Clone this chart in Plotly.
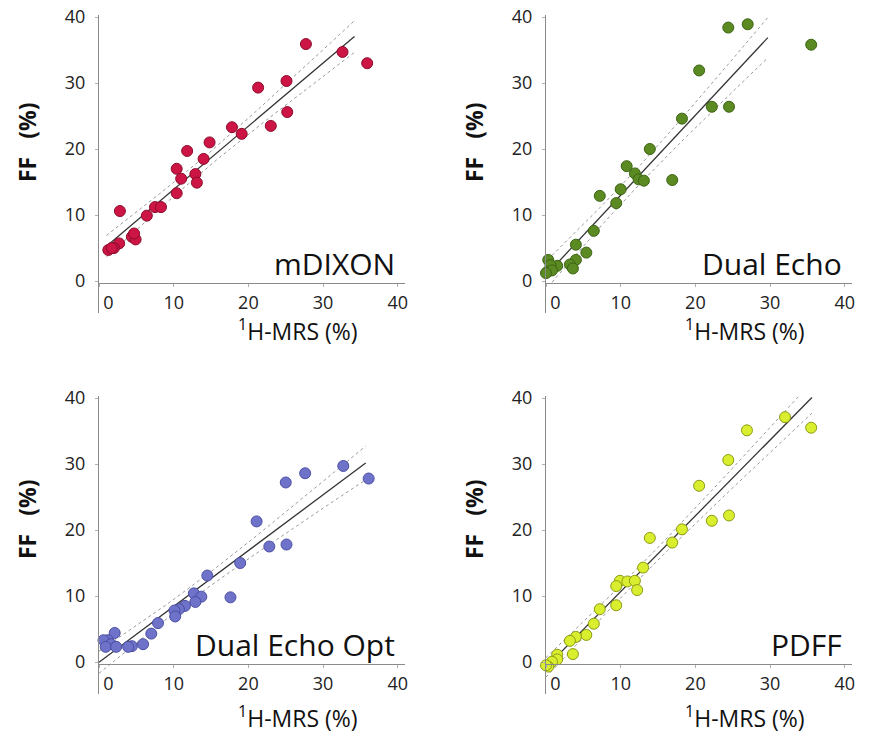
import numpy as np
import plotly.graph_objects as go

W, H = 874, 734

# ---- data ----
mrs_mdixon = [27.7, 32.6, 35.9, 21.3, 25.1, 25.2, 23.0, 17.8, 19.1, 14.8, 11.8, 14.0, 10.4, 11.0,
              12.9, 13.1, 10.4, 7.5, 8.3, 6.4, 2.8, 4.4, 4.9, 4.7, 2.7, 2.0, 1.25, 1.7]
ff_mdixon = [35.9, 34.7, 33.0, 29.3, 30.3, 25.6, 23.5, 23.3, 22.3, 21.0, 19.7, 18.5, 17.0, 15.5,
             16.2, 14.9, 13.3, 11.2, 11.2, 9.9, 10.6, 6.7, 6.3, 7.2, 5.7, 5.0, 4.7, 5.0]

mrs_dual = [24.4, 27.0, 35.5, 20.5, 22.2, 24.5, 18.2, 13.9, 10.8, 11.9, 12.4, 13.1, 16.9, 10.0,
            7.2, 9.4, 6.4, 4.0, 5.4, 4.0, 3.2, 3.6, 1.5, 0.3, 0.6, 0.2, 0.8, 0.0]
ff_dual = [38.4, 38.9, 35.8, 31.9, 26.4, 26.4, 24.6, 20.0, 17.4, 16.3, 15.4, 15.2, 15.3, 13.9,
           12.9, 11.8, 7.6, 5.5, 4.3, 3.2, 2.5, 1.9, 2.3, 3.2, 2.4, 1.4, 1.6, 1.2]

mrs_opt = [32.7, 27.6, 36.1, 25.0, 21.1, 22.8, 25.1, 18.9, 14.5, 17.6, 12.7, 13.7, 12.9, 11.5,
           10.7, 10.1, 10.2, 7.9, 7.0, 5.9, 4.4, 3.9, 2.1, 1.2, 0.6, 1.6, 0.9, 2.3]
ff_opt = [29.7, 28.6, 27.8, 27.2, 21.3, 17.5, 17.8, 15.0, 13.1, 9.8, 10.4, 9.9, 9.1, 8.5,
          8.0, 7.8, 6.9, 5.9, 4.3, 2.7, 2.4, 2.3, 4.4, 3.3, 3.3, 2.7, 2.3, 2.3]

mrs_pdff = [32.0, 35.5, 26.9, 24.4, 20.5, 22.2, 24.5, 18.2, 13.9, 16.9, 13.0, 9.9, 10.9, 11.9,
            9.4, 12.2, 9.4, 7.2, 6.4, 5.4, 4.0, 3.2, 3.6, 1.5, 1.5, 0.8, 0.3, 0.0]
ff_pdff = [37.1, 35.5, 35.1, 30.6, 26.7, 21.4, 22.2, 20.1, 18.8, 18.1, 14.3, 12.3, 12.2, 12.3,
           11.5, 10.9, 8.6, 8.0, 5.8, 4.1, 3.8, 3.2, 1.2, 1.1, 0.4, 0.05, -0.7, -0.5]

panel_names = ["mDIXON", "Dual Echo", "Dual Echo Opt", "PDFF"]
line_x_start = [1.0, 0.8, 0.0, 0.0]
line_x_end = [34.2, 29.7, 35.7, 35.6]
x_ticks = [0, 10, 20, 30, 40]
y_ticks = [0, 10, 20, 30, 40]
x_title = "<sup>1</sup>H-MRS (%)"
y_title = "FF\u00a0\u00a0\u00a0(%)"

fill_colors = ["#cc1445", "#5b8a22", "#6f72c9", "#d8ee2e"]
edge_colors = ["#8c0c2b", "#3c6414", "#4b4fa3", "#8d9c12"]

# ---- layout geometry (pixels) ----
PXX, PXY = 7.47, 6.6
origins = [(99, 281), (546, 281), (99, 662), (546, 662)]
X_RANGE = [0, 41]
Y_RANGE = [-4.85, 40.3]
T_VAL = 2.056

def xp(px):
    return px / W

def yp(px):
    return 1 - px / H

xs_all = [mrs_mdixon, mrs_dual, mrs_opt, mrs_pdff]
ys_all = [ff_mdixon, ff_dual, ff_opt, ff_pdff]

fig = go.Figure()
annotations = []
font_family = "Open Sans, Lato, sans-serif"

for i in range(4):
    n = i + 1
    xa = "x" if n == 1 else f"x{n}"
    ya = "y" if n == 1 else f"y{n}"
    x = np.array(xs_all[i], dtype=float)
    y = np.array(ys_all[i], dtype=float)

    # regression with 95% CI of the mean
    b, a = np.polyfit(x, y, 1)
    resid = y - (a + b * x)
    s = np.sqrt(np.sum(resid ** 2) / (len(x) - 2))
    xm = x.mean()
    sxx = np.sum((x - xm) ** 2)
    xl = np.linspace(line_x_start[i], line_x_end[i], 80)
    yl = a + b * xl
    se = s * np.sqrt(1 / len(x) + (xl - xm) ** 2 / sxx)

    for band in (yl + T_VAL * se, yl - T_VAL * se):
        fig.add_trace(go.Scatter(x=xl, y=band, mode="lines", xaxis=xa, yaxis=ya,
                                 line=dict(color="#9a9a9a", width=1, dash="dot"),
                                 showlegend=False, hoverinfo="skip"))
    fig.add_trace(go.Scatter(x=xl, y=yl, mode="lines", xaxis=xa, yaxis=ya,
                             line=dict(color="#333333", width=1.3),
                             showlegend=False, hoverinfo="skip"))
    fig.add_trace(go.Scatter(x=x, y=y, mode="markers", xaxis=xa, yaxis=ya,
                             marker=dict(size=11, color=fill_colors[i],
                                         line=dict(color=edge_colors[i], width=1)),
                             cliponaxis=False, showlegend=False, name=panel_names[i]))

    ox, oy = origins[i]
    xdom = [xp(ox), xp(ox + X_RANGE[1] * PXX)]
    ydom = [yp(oy - Y_RANGE[0] * PXY), yp(oy - Y_RANGE[1] * PXY)]
    axis_font = dict(family=font_family, size=18, color="#222222")
    fig.layout[f"xaxis{'' if n == 1 else n}"] = dict(
        domain=xdom, range=X_RANGE, anchor="free", position=yp(oy + 2), automargin=False,
        showline=True, linecolor="#8a8a8a", linewidth=1, showgrid=False, zeroline=False,
        ticks="outside", ticklen=3, tickcolor="#b0b0b0",
        tickvals=x_ticks,
        ticktext=["\u00a0\u00a0\u00a0\u00a0" + str(x_ticks[0])] + [str(t) for t in x_ticks[1:]],
        tickfont=axis_font, ticklabelstandoff=0)
    fig.layout[f"yaxis{'' if n == 1 else n}"] = dict(
        domain=ydom, range=Y_RANGE, anchor=xa, automargin=False,
        showline=True, linecolor="#8a8a8a", linewidth=1, showgrid=False, zeroline=False,
        ticks="outside", ticklen=3, tickcolor="#b0b0b0",
        tickvals=y_ticks, tickfont=axis_font, ticklabelstandoff=6)

    # panel label
    annotations.append(dict(text=panel_names[i], xref="paper", yref="paper",
                            x=xp(ox + 298), y=yp(oy + 5), xanchor="right", yanchor="bottom",
                            showarrow=False,
                            font=dict(family=font_family, size=30, color="#111111")))
    # x title
    annotations.append(dict(text=x_title, xref="paper", yref="paper",
                            x=xp(ox + 199), y=yp(oy + 49 + (6 if i >= 2 else 0)),
                            xanchor="center", yanchor="middle", showarrow=False,
                            font=dict(family=font_family, size=23, color="#111111")))
    # y title
    annotations.append(dict(text=y_title, xref="paper", yref="paper",
                            x=xp(ox - 72), y=yp(oy - 138 + (-4 if i >= 2 else 0)),
                            xanchor="center", yanchor="middle", textangle=-90, showarrow=False,
                            font=dict(family=font_family, size=23, color="#111111",
                                      weight="bold")))

fig.update_layout(width=W, height=H, margin=dict(l=0, r=0, t=0, b=0, autoexpand=False),
                  paper_bgcolor="white", plot_bgcolor="white",
                  annotations=annotations, showlegend=False)

fig.write_html("out.html", config={"displayModeBar": False},
               post_script="document.body.style.margin='0px';document.body.style.overflow='hidden';")
